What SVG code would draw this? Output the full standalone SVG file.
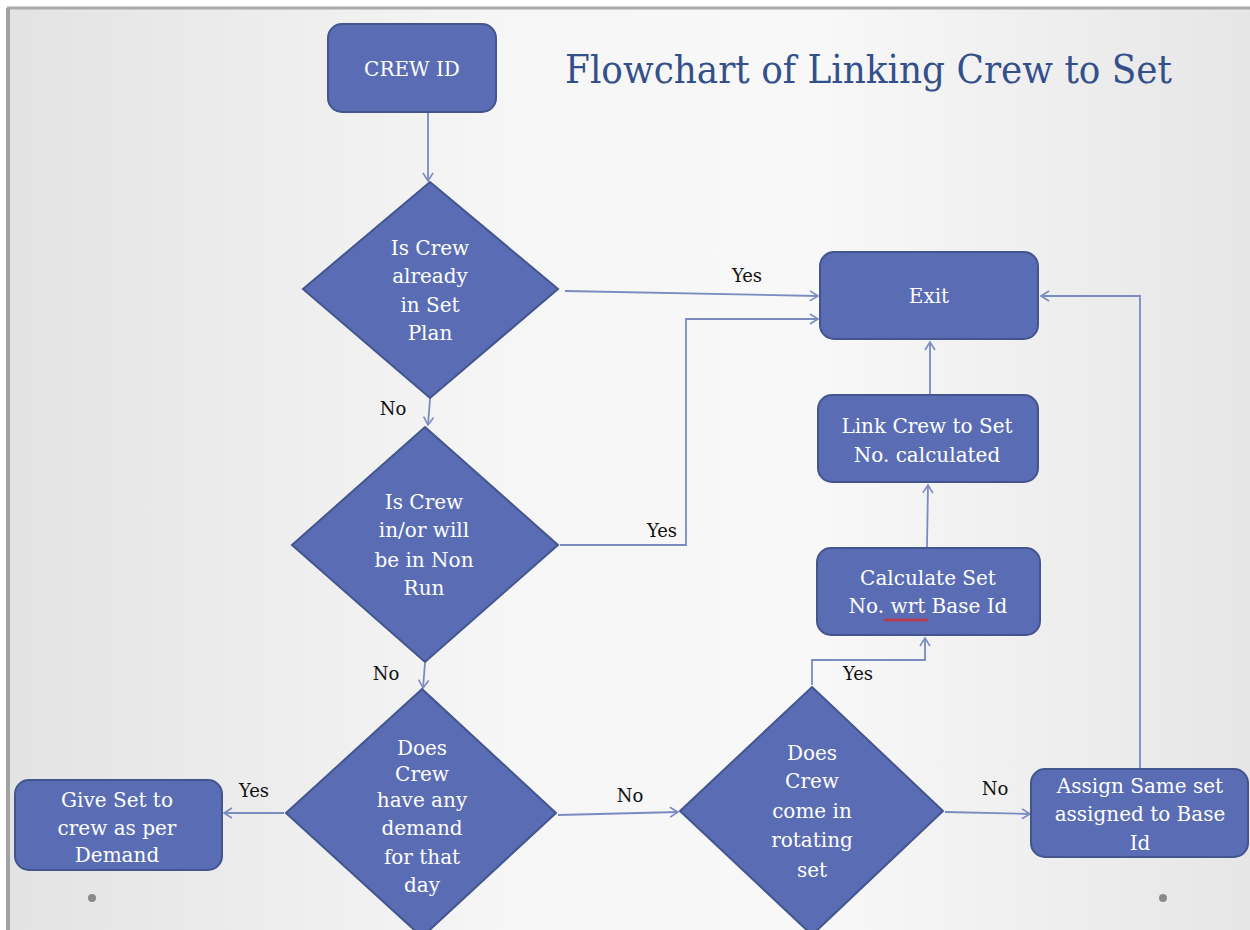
<svg xmlns="http://www.w3.org/2000/svg" width="1250" height="930" viewBox="0 0 1250 930">
<defs>
<linearGradient id="bg" x1="0" y1="0" x2="1" y2="0">
<stop offset="0" stop-color="#e3e3e3"/>
<stop offset="0.4" stop-color="#f6f6f6"/>
<stop offset="0.65" stop-color="#f8f8f8"/>
<stop offset="1" stop-color="#e6e6e6"/>
</linearGradient>
<marker id="arr" markerWidth="12" markerHeight="12" refX="10" refY="6" orient="auto" markerUnits="userSpaceOnUse">
<path d="M2,1 L10,6 L2,11" fill="none" stroke="#7a8bc0" stroke-width="1.6"/>
</marker>
<style>
.node{fill:#5a6db4;stroke:#42558f;stroke-width:2}
.nt{font-family:"DejaVu Serif","Liberation Serif",serif;font-size:20px;fill:#ffffff;text-anchor:middle}
.lbl{font-family:"DejaVu Serif","Liberation Serif",serif;font-size:18px;fill:#111111;text-anchor:middle}
.con{fill:none;stroke:#7a8bc0;stroke-width:1.8}
</style>
</defs>
<rect x="0" y="0" width="1250" height="930" fill="#ffffff"/>
<rect x="9" y="9" width="1241" height="921" fill="url(#bg)"/>
<line x1="7" y1="8" x2="1250" y2="8" stroke="#a8aaad" stroke-width="3"/>
<line x1="8" y1="8" x2="8" y2="930" stroke="#a0a2a6" stroke-width="4"/>
<text x="565" y="83" font-family="DejaVu Serif, Liberation Serif, serif" font-size="39" fill="#34508a" textLength="607" lengthAdjust="spacingAndGlyphs">Flowchart of Linking Crew to Set</text>
<circle cx="92" cy="898" r="4" fill="#8a8a8a"/>
<circle cx="1163" cy="898" r="4" fill="#8a8a8a"/>
<g id="connectors">
<path class="con" d="M428,113 L428,181" marker-end="url(#arr)"/>
<path class="con" d="M430,399 L428,425" marker-end="url(#arr)"/>
<path class="con" d="M425,663 L423,688" marker-end="url(#arr)"/>
<path class="con" d="M565,291 L818,296" marker-end="url(#arr)"/>
<path class="con" d="M560,545 L686,545 L686,319 L818,319" marker-end="url(#arr)"/>
<path class="con" d="M284,813 L224,813" marker-end="url(#arr)"/>
<path class="con" d="M558,815 L678,812" marker-end="url(#arr)"/>
<path class="con" d="M945,812 L1030,814" marker-end="url(#arr)"/>
<path class="con" d="M812,685 L812,660 L925,660 L925,638" marker-end="url(#arr)"/>
<path class="con" d="M927,547 L928,485" marker-end="url(#arr)"/>
<path class="con" d="M930,394 L930,342" marker-end="url(#arr)"/>
<path class="con" d="M1140,768 L1140,296 L1041,296" marker-end="url(#arr)"/>
<text class="lbl" x="747" y="282">Yes</text>
<text class="lbl" x="662" y="537">Yes</text>
<text class="lbl" x="393" y="415">No</text>
<text class="lbl" x="386" y="680">No</text>
<text class="lbl" x="254" y="797">Yes</text>
<text class="lbl" x="630" y="802">No</text>
<text class="lbl" x="995" y="795">No</text>
<text class="lbl" x="858" y="680">Yes</text>
</g>
<g id="crew-id">
<rect class="node" x="328" y="24" width="168" height="88" rx="14"/>
<text class="nt" x="412" y="76" font-size="17">CREW ID</text>
</g>
<g id="d-in-set-plan">
<polygon class="node" points="430,182 558,289 430,398 303,289"/>
<text class="nt" x="430" y="255">Is Crew</text>
<text class="nt" x="430" y="283">already</text>
<text class="nt" x="430" y="312">in Set</text>
<text class="nt" x="430" y="340">Plan</text>
</g>
<g id="d-non-run">
<polygon class="node" points="425,427 558,545 425,662 292,545"/>
<text class="nt" x="424" y="509">Is Crew</text>
<text class="nt" x="424" y="537">in/or will</text>
<text class="nt" x="424" y="567">be in Non</text>
<text class="nt" x="424" y="595">Run</text>
</g>
<g id="d-demand">
<polygon class="node" points="422,689 556,813 422,937 286,813"/>
<text class="nt" x="422" y="755">Does</text>
<text class="nt" x="422" y="781">Crew</text>
<text class="nt" x="422" y="807">have any</text>
<text class="nt" x="422" y="835">demand</text>
<text class="nt" x="422" y="864">for that</text>
<text class="nt" x="422" y="892">day</text>
</g>
<g id="d-rotating">
<polygon class="node" points="812,687 943,811 812,935 680,811"/>
<text class="nt" x="812" y="760">Does</text>
<text class="nt" x="812" y="788">Crew</text>
<text class="nt" x="812" y="818">come in</text>
<text class="nt" x="812" y="847">rotating</text>
<text class="nt" x="812" y="877">set</text>
</g>
<g id="give-set">
<rect class="node" x="15" y="780" width="207" height="90" rx="14"/>
<text class="nt" x="117" y="807">Give Set to</text>
<text class="nt" x="117" y="835">crew as per</text>
<text class="nt" x="117" y="862">Demand</text>
</g>
<g id="assign">
<rect class="node" x="1031" y="769" width="217" height="88" rx="14"/>
<text class="nt" x="1140" y="793">Assign Same set</text>
<text class="nt" x="1140" y="821">assigned to Base</text>
<text class="nt" x="1140" y="850">Id</text>
</g>
<g id="exit">
<rect class="node" x="820" y="252" width="218" height="87" rx="14"/>
<text class="nt" x="929" y="303">Exit</text>
</g>
<g id="link-crew">
<rect class="node" x="818" y="395" width="220" height="87" rx="14"/>
<text class="nt" x="927" y="433">Link Crew to Set</text>
<text class="nt" x="927" y="462">No. calculated</text>
</g>
<g id="calc-set">
<rect class="node" x="817" y="548" width="223" height="87" rx="14"/>
<text class="nt" x="928" y="585">Calculate Set</text>
<text class="nt" x="928" y="613">No. wrt Base Id</text>
<path d="M884,619 l2,2 l2,-2 l2,2 l2,-2 l2,2 l2,-2 l2,2 l2,-2 l2,2 l2,-2 l2,2 l2,-2 l2,2 l2,-2 l2,2 l2,-2 l2,2 l2,-2 l2,2 l2,-2 l2,2 l2,-2" fill="none" stroke="#e02828" stroke-width="1.4"/>
</g>
</svg>
